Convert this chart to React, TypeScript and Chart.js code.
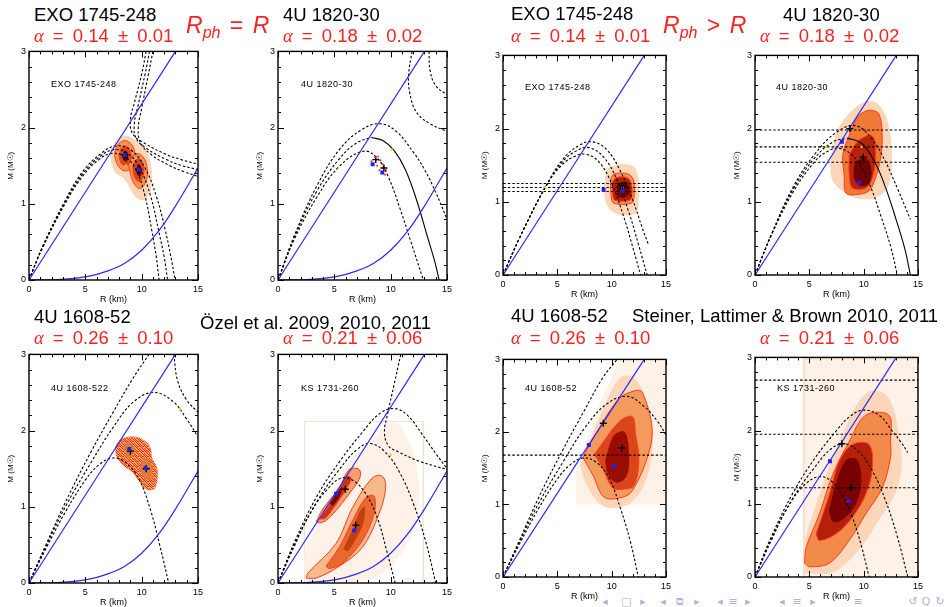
import React, { useEffect, useRef } from 'react';
import { Chart, registerables } from 'chart.js';
Chart.register(...registerables);

type Pt = [number, number];

// ---------------- shared curves ----------------
const CAUSALITY: Pt[] = [[0, 0], [13, 3]];
const LOWER_BLUE: Pt[] = [[0, 0], [2.5, 0.005], [5, 0.04], [7, 0.12], [8.5, 0.22], [10, 0.39], [11.5, 0.64], [13, 0.97], [15, 1.47]];

// ---------------- panel 1: EXO 1745-248 (Özel) ----------------
const EXO_O_TD1: Pt[] = [[0, 0], [1.2, 0.42], [3.2, 1.0], [4.8, 1.37], [6.2, 1.58], [7.3, 1.66], [8.5, 1.62], [9.5, 1.45], [10.3, 1.1], [10.9, 0.65], [11.3, 0.3], [11.55, 0]];
const EXO_O_TD2: Pt[] = [[0, 0], [1.2, 0.43], [3.2, 1.02], [4.8, 1.4], [6.3, 1.62], [7.5, 1.71], [8.8, 1.66], [9.9, 1.45], [10.8, 1.1], [11.5, 0.65], [12.0, 0.3], [12.3, 0]];
const EXO_O_TD3: Pt[] = [[0, 0], [1.2, 0.44], [3.2, 1.04], [4.8, 1.43], [6.4, 1.66], [7.7, 1.76], [9.1, 1.7], [10.3, 1.47], [11.3, 1.1], [12.1, 0.65], [12.6, 0.3], [12.97, 0]];
const EXO_O_AR1: Pt[] = [[10.4, 3], [10.0, 2.7], [9.4, 2.35], [9.0, 2.1], [9.2, 1.92], [10.2, 1.8], [12, 1.66], [13.5, 1.58], [15, 1.52]];
const EXO_O_AR2: Pt[] = [[10.7, 3], [10.3, 2.7], [9.7, 2.3], [9.35, 2.05], [9.5, 1.86], [10.5, 1.72], [12.2, 1.58], [13.6, 1.5], [15, 1.45]];
const EXO_O_AR3: Pt[] = [[11.0, 3], [10.6, 2.7], [10.0, 2.25], [9.7, 2.0], [9.9, 1.8], [10.9, 1.64], [12.5, 1.5], [13.8, 1.42], [15, 1.36]];
const EXO_O_HALO: Pt[] = [[7.2, 1.62], [7.6, 1.8], [8.4, 1.9], [9.4, 1.84], [10.4, 1.7], [10.9, 1.45], [10.8, 1.18], [10.2, 1.05], [9.4, 1.1], [8.5, 1.32], [7.6, 1.42]];
const EXO_O_A_OUT: Pt[] = [[7.6, 1.62], [7.8, 1.76], [8.5, 1.83], [9.2, 1.76], [9.4, 1.6], [9.1, 1.47], [8.5, 1.43], [7.9, 1.5]];
const EXO_O_A_IN: Pt[] = [[8.0, 1.63], [8.15, 1.72], [8.5, 1.76], [8.95, 1.71], [9.05, 1.6], [8.85, 1.52], [8.5, 1.5], [8.15, 1.54]];
const EXO_O_A_CORE: Pt[] = [[8.25, 1.63], [8.5, 1.7], [8.8, 1.65], [8.7, 1.56], [8.4, 1.57]];
const EXO_O_B_OUT: Pt[] = [[8.85, 1.5], [9.1, 1.6], [9.6, 1.66], [10.2, 1.6], [10.5, 1.45], [10.35, 1.28], [9.8, 1.2], [9.2, 1.3]];
const EXO_O_B_IN: Pt[] = [[9.2, 1.48], [9.4, 1.56], [9.75, 1.59], [10.1, 1.53], [10.2, 1.42], [10.0, 1.32], [9.7, 1.29], [9.35, 1.36]];
const EXO_O_B_CORE: Pt[] = [[9.5, 1.46], [9.75, 1.52], [10.0, 1.46], [9.9, 1.37], [9.6, 1.38]];
const EXO_O_SQ: Pt[] = [[8.5, 1.64], [9.75, 1.45]];
const EXO_O_PLUS: Pt[] = [[8.5, 1.64], [9.75, 1.45]];
const EXO_O_YEL: Pt[] = [[8.6, 1.5]];

// ---------------- panel 2: 4U 1820-30 (Özel) ----------------
const U1820_O_TD_IN: Pt[] = [[0, 0], [1.5, 0.55], [3.5, 1.1], [5.5, 1.5], [7.6, 1.69], [8.8, 1.6], [9.8, 1.35], [10.8, 0.95], [11.8, 0.5], [12.9, 0]];
const U1820_O_TD_MIDL: Pt[] = [[0, 0], [1.5, 0.58], [3.5, 1.18], [5.5, 1.6], [7, 1.8], [8.3, 1.87]];
const U1820_O_TD_MIDR: Pt[] = [[8.3, 1.87], [9.3, 1.83], [10.3, 1.7], [11.3, 1.45], [12.3, 1.05], [13.2, 0.6], [13.9, 0.25], [14.3, 0]];
const U1820_O_TD_OUT: Pt[] = [[0, 0], [1.5, 0.6], [3.5, 1.25], [5.5, 1.72], [7.5, 1.98], [9.1, 2.05], [10.5, 1.95], [12, 1.68], [13, 1.45], [14, 1.15], [15, 0.8]];
const U1820_O_AR1: Pt[] = [[11.9, 3], [11.6, 2.7], [11.7, 2.45], [12.3, 2.2], [13.5, 2.05], [15, 1.95]];
const U1820_O_AR2: Pt[] = [[13.4, 3], [13.5, 2.75], [14.0, 2.55], [15, 2.43]];
const U1820_O_RED: Pt[] = [[8.3, 1.56], [8.6, 1.61], [8.9, 1.62], [9.1, 1.57], [9.3, 1.52], [9.6, 1.45], [9.5, 1.38], [9.0, 1.44], [8.8, 1.5]];
const U1820_O_SQ: Pt[] = [[8.4, 1.52], [9.26, 1.41]];
const U1820_O_PLUS: Pt[] = [[8.68, 1.58], [9.4, 1.47]];
const U1820_O_YEL: Pt[] = [[10.1, 1.71]];

// ---------------- panel 3: EXO 1745-248 (Steiner) ----------------
const EXO_S_TD1: Pt[] = [[0, 0], [1.5, 0.5], [3.9, 1.2], [5.5, 1.58], [7, 1.77], [8.2, 1.82], [9.5, 1.72], [10.8, 1.42], [12, 1.0], [12.8, 0.65], [13.4, 0.41]];
const EXO_S_TD2: Pt[] = [[0, 0], [1.5, 0.5], [3.9, 1.2], [5.5, 1.55], [6.8, 1.7], [7.9, 1.74], [9.2, 1.62], [10.5, 1.3], [11.6, 0.85], [12.5, 0.4], [13.27, 0]];
const EXO_S_TD3: Pt[] = [[0, 0], [1.5, 0.5], [3.9, 1.2], [5.4, 1.5], [6.6, 1.62], [7.6, 1.65], [8.8, 1.55], [10, 1.25], [11.1, 0.8], [12.0, 0.35], [12.66, 0]];
const EXO_S_HLINES: number[] = [1.25, 1.195, 1.14];
const EXO_S_HALO: Pt[] = [[9.5, 1.45], [11, 1.52], [12.2, 1.45], [12.5, 1.1], [12.2, 0.85], [10.8, 0.82], [9.7, 0.92], [9.3, 1.15]];
const EXO_S_OUT: Pt[] = [[9.9, 1.3], [10.2, 1.38], [11.5, 1.38], [12.0, 1.3], [12.05, 1.05], [11.8, 0.98], [10.2, 0.98], [9.95, 1.08]];
const EXO_S_IN: Pt[] = [[10.1, 1.28], [10.4, 1.33], [11.4, 1.33], [11.8, 1.25], [11.85, 1.07], [11.6, 1.02], [10.3, 1.02], [10.1, 1.1]];
const EXO_S_CORE: Pt[] = [[10.5, 1.25], [11.4, 1.27], [11.6, 1.1], [10.6, 1.07]];
const EXO_S_SQ: Pt[] = [[9.26, 1.16], [11.0, 1.15]];
const EXO_S_PLUS: Pt[] = [[11.0, 1.22]];
const EXO_S_YEL: Pt[] = [[11.0, 1.2], [3.86, 1.2]];

// ---------------- panel 4: 4U 1820-30 (Steiner) ----------------
const U1820_S_TD_OUT: Pt[] = [[0, 0], [1.5, 0.55], [3.5, 1.2], [5.5, 1.65], [7.5, 1.95], [9.28, 2.04], [10.8, 1.85], [12, 1.55], [13.2, 1.15], [14.3, 0.76]];
const U1820_S_TD_MIDL: Pt[] = [[0, 0], [1.5, 0.55], [3.5, 1.17], [5.5, 1.6], [7.2, 1.82], [8.5, 1.87]];
const U1820_S_TD_MIDR: Pt[] = [[8.5, 1.87], [9.8, 1.8], [11, 1.55], [12, 1.2], [13, 0.75], [13.8, 0.35], [14.3, 0]];
const U1820_S_TD_IN: Pt[] = [[0, 0], [1.5, 0.54], [3.5, 1.13], [5.5, 1.55], [6.8, 1.7], [7.8, 1.73], [9.2, 1.6], [10.5, 1.25], [11.6, 0.8], [12.5, 0.38], [13.1, 0]];
const U1820_S_HLINES: number[] = [1.98, 1.75, 1.54];
const U1820_S_HALO: Pt[] = [[6.9, 1.5], [7.5, 1.95], [8.6, 2.2], [10.0, 2.36], [11.2, 2.35], [12.2, 2.1], [12.6, 1.6], [12.2, 1.2], [11.0, 1.05], [9.4, 1.05], [8.0, 1.15], [7.1, 1.3]];
const U1820_S_OUT: Pt[] = [[8.2, 1.73], [8.67, 1.91], [9.43, 2.16], [10.5, 2.25], [11.4, 2.2], [11.7, 1.91], [11.56, 1.6], [11.1, 1.33], [10.5, 1.15], [9.43, 1.1], [8.37, 1.12], [8.2, 1.37], [8.06, 1.6]];
const U1820_S_IN: Pt[] = [[8.67, 1.64], [9.43, 1.82], [10.5, 1.91], [10.95, 1.87], [11.1, 1.6], [10.8, 1.33], [10.2, 1.19], [8.97, 1.19], [8.67, 1.37]];
const U1820_S_CORE: Pt[] = [[9.2, 1.55], [10.2, 1.6], [10.7, 1.45], [10.5, 1.25], [9.6, 1.22], [9.1, 1.35]];
const U1820_S_SQ: Pt[] = [[8.0, 1.82], [9.58, 1.26]];
const U1820_S_PLUS: Pt[] = [[8.73, 2.0], [9.95, 1.61]];
const U1820_S_YEL: Pt[] = [[6.54, 1.75], [9.8, 1.75]];

// ---------------- panel 5: 4U 1608-52 (Özel) ----------------
const U1608_O_STEEP: Pt[] = [[0, 0], [1.5, 0.5], [3.3, 1.08], [5.5, 1.72], [7.5, 2.25], [9.2, 2.68], [10.65, 3.0]];
const U1608_O_TD_OUT: Pt[] = [[0, 0], [1.5, 0.48], [3.3, 1.02], [5.5, 1.58], [7.5, 2.05], [9.3, 2.38], [11.1, 2.5], [12.8, 2.38], [14, 2.15], [15, 1.92]];
const U1608_O_TD_IN: Pt[] = [[0, 0], [1.5, 0.45], [3.3, 0.95], [5, 1.35], [6.2, 1.55], [7.4, 1.64], [8.6, 1.58], [9.8, 1.35], [10.8, 0.95], [11.6, 0.5], [12.4, 0]];
const U1608_O_AR: Pt[] = [[12.85, 3], [13.2, 2.65], [14, 2.4], [15, 2.24]];
const U1608_O_CLOUD: Pt[] = [[7.7, 1.81], [8.3, 1.9], [9.47, 1.92], [10.35, 1.86], [10.8, 1.77], [10.94, 1.64], [11.38, 1.51], [11.38, 1.34], [11.09, 1.23], [10.35, 1.23], [9.76, 1.34], [9.03, 1.47], [8.3, 1.55], [7.7, 1.68]];
const U1608_O_A: Pt[] = [[8.4, 1.76], [8.7, 1.84], [9.2, 1.82], [9.4, 1.72], [9.1, 1.64], [8.6, 1.67]];
const U1608_O_B: Pt[] = [[9.9, 1.55], [10.3, 1.65], [10.8, 1.58], [10.9, 1.42], [10.5, 1.36], [10.0, 1.43]];
const U1608_O_SQ: Pt[] = [[8.9, 1.76], [10.35, 1.51]];
const U1608_O_PLUS: Pt[] = [[9.0, 1.73], [10.4, 1.5]];
const U1608_O_YEL: Pt[] = [[13.4, 2.28]];

// ---------------- panel 6: KS 1731-260 (Özel) ----------------
const KS_O_TD_OUT: Pt[] = [[0, 0], [1.5, 0.55], [3.5, 1.15], [5.5, 1.6], [7.5, 1.98], [9, 2.22], [10.3, 2.29], [11.5, 2.2], [12.8, 1.95], [14, 1.7], [15, 1.5]];
const KS_O_TD_MID: Pt[] = [[0, 0], [1.5, 0.52], [3.5, 1.08], [5.5, 1.5], [7, 1.75], [8.2, 1.83], [9.5, 1.72], [10.8, 1.45], [12, 1.05], [13.1, 0.55], [14.0, 0]];
const KS_O_TD_IN: Pt[] = [[0, 0], [1.5, 0.5], [3, 0.95], [4.5, 1.25], [5.7, 1.38], [6.9, 1.32], [8, 1.12], [8.9, 0.82], [9.6, 0.45], [10.4, 0]];
const KS_O_AR: Pt[] = [[10.9, 3], [10.3, 2.6], [9.7, 2.2], [9.45, 1.98], [9.8, 1.8], [10.7, 1.72], [12.5, 1.6], [15, 1.49]];
const KS_O_BOX: Pt[] = [[2.35, 0], [2.35, 2.12], [12.9, 2.12], [12.9, 0]];
const KS_O_HALO: Pt[] = [[2.4, 0.0], [2.4, 0.4], [3.5, 0.75], [4.3, 1.05], [5.5, 1.4], [6.6, 1.65], [8.2, 1.85], [9.5, 2.05], [10.5, 2.1], [11.5, 1.9], [12.3, 1.55], [12.5, 1.1], [11.8, 0.6], [10.5, 0.3], [9, 0.1], [7, 0.02], [4.5, 0.0]];
const KS_O_U_OUT: Pt[] = [[3.38, 0.8], [3.97, 0.97], [5.44, 1.25], [6.32, 1.49], [7.2, 1.49], [7.26, 1.38], [6.32, 1.17], [5.15, 0.95], [4.26, 0.82], [3.68, 0.79]];
const KS_O_U_IN: Pt[] = [[3.7, 0.84], [4.6, 1.03], [5.5, 1.25], [6.1, 1.4], [6.5, 1.37], [6.0, 1.22], [5.0, 1.0], [4.2, 0.85]];
const KS_O_U_CORE: Pt[] = [[4.6, 1.04], [5.3, 1.2], [5.7, 1.26], [5.5, 1.15], [4.9, 1.02]];
const KS_O_L_OUT: Pt[] = [[2.5, 0.065], [2.65, 0.13], [5.15, 0.52], [6.62, 0.99], [8.38, 1.38], [9.26, 1.4], [9.56, 1.25], [8.97, 0.91], [7.5, 0.47], [5.44, 0.22], [3.38, 0.065]];
const KS_O_L_IN: Pt[] = [[4.26, 0.22], [5.44, 0.47], [6.62, 0.82], [7.8, 1.12], [8.53, 1.14], [8.53, 0.91], [7.5, 0.56], [5.74, 0.26], [4.56, 0.19]];
const KS_O_L_CORE: Pt[] = [[5.8, 0.45], [6.6, 0.7], [7.3, 0.95], [7.7, 1.0], [7.6, 0.8], [7.0, 0.6], [6.2, 0.42]];
const KS_O_SQ: Pt[] = [[5.15, 1.17], [6.76, 0.69]];
const KS_O_PLUS: Pt[] = [[5.97, 1.23], [6.9, 0.76]];
const KS_O_YEL: Pt[] = [[10.0, 1.68]];

// ---------------- panel 7: 4U 1608-52 (Steiner) ----------------
const U1608_S_STEEP: Pt[] = [[0, 0], [1.5, 0.5], [3.3, 1.1], [5.5, 1.75], [7.5, 2.3], [9.2, 2.75], [10.5, 3.0]];
const U1608_S_TD_OUT: Pt[] = [[0, 0], [1.5, 0.48], [3.3, 1.02], [5.5, 1.58], [7.5, 2.05], [9.5, 2.38], [11.45, 2.49], [13, 2.35], [14.2, 2.15], [15, 1.96]];
const U1608_S_TD_IN: Pt[] = [[0, 0], [1.5, 0.45], [3.3, 0.95], [5, 1.35], [6.2, 1.55], [7.35, 1.64], [8.6, 1.58], [9.8, 1.35], [10.8, 0.95], [11.7, 0.5], [12.45, 0]];
const U1608_S_HLINES: number[] = [1.68];
const U1608_S_FAINT: Pt[] = [[6.74, 1.0], [6.74, 1.45], [8.8, 2.35], [10.7, 3.0], [15, 3.0], [15, 1.0]];
const U1608_S_HALO: Pt[] = [[7.1, 1.55], [8.3, 2.0], [9.6, 2.45], [10.8, 2.75], [12, 2.75], [13.2, 2.45], [13.8, 1.9], [13.2, 1.35], [12, 1.05], [10.5, 0.95], [9, 1.0], [7.6, 1.3]];
const U1608_S_OUT: Pt[] = [[7.35, 1.65], [8.41, 1.94], [10.69, 2.46], [12.2, 2.57], [12.8, 2.55], [13.72, 2.05], [13.27, 1.64], [11.9, 1.19], [10.99, 1.1], [9.32, 1.1], [8.26, 1.41]];
const U1608_S_IN: Pt[] = [[8.41, 1.69], [10.69, 2.14], [11.9, 2.21], [12.2, 1.96], [12.5, 1.64], [12.05, 1.26], [10.99, 1.21], [10.08, 1.23], [9.17, 1.5]];
const U1608_S_CORE: Pt[] = [[9.4, 1.6], [10.2, 1.95], [11.2, 2.0], [11.6, 1.7], [11.4, 1.4], [10.5, 1.3], [9.7, 1.4]];
const U1608_S_SQ: Pt[] = [[7.9, 1.82], [10.23, 1.53]];
const U1608_S_PLUS: Pt[] = [[9.23, 2.12], [10.93, 1.78]];

// ---------------- panel 8: KS 1731-260 (Steiner) ----------------
const KS_S_TD_OUT: Pt[] = [[0, 0], [1.5, 0.55], [3.5, 1.15], [5.5, 1.62], [7.5, 2.0], [8.8, 2.2], [10.04, 2.28], [11.5, 2.2], [12.6, 2.0], [13.4, 1.85], [14.06, 1.7]];
const KS_S_TD_MID: Pt[] = [[0, 0], [1.5, 0.52], [3.5, 1.08], [5.5, 1.5], [7, 1.75], [8.2, 1.82], [9.5, 1.72], [10.8, 1.45], [12, 1.05], [13.1, 0.55], [14.06, 0]];
const KS_S_TD_IN: Pt[] = [[0, 0], [1.5, 0.5], [3, 0.95], [4.5, 1.25], [5.93, 1.37], [7.1, 1.3], [8.1, 1.1], [9, 0.8], [9.8, 0.42], [10.5, 0]];
const KS_S_HLINES: number[] = [2.69, 1.95, 1.22];
const KS_S_BOX: Pt[] = [[4.5, 0], [4.5, 2.98], [15, 2.98], [15, 0]];
const KS_S_HALO: Pt[] = [[4.6, 0.05], [4.6, 0.5], [5.3, 0.85], [6.2, 1.25], [7.2, 1.65], [8.5, 2.1], [9.8, 2.45], [11, 2.55], [12.3, 2.45], [13.2, 2.0], [13.5, 1.5], [12.8, 1.1], [11.5, 0.8], [10, 0.45], [8.5, 0.2], [7, 0.05]];
const KS_S_OUT: Pt[] = [[4.56, 0.19], [4.72, 0.41], [5.93, 0.86], [7.15, 1.4], [8.67, 1.85], [10.19, 2.21], [12.32, 2.21], [12.47, 1.85], [12.47, 1.63], [11.71, 1.22], [10.19, 0.86], [8.67, 0.5], [6.85, 0.19], [5.02, 0.14]];
const KS_S_IN: Pt[] = [[5.63, 0.59], [6.85, 1.13], [7.76, 1.58], [8.98, 1.81], [10.5, 1.81], [10.8, 1.49], [10.19, 1.13], [8.98, 0.82], [7.45, 0.59], [5.93, 0.5]];
const KS_S_CORE: Pt[] = [[6.8, 0.9], [7.5, 1.3], [8.4, 1.6], [9.4, 1.6], [9.8, 1.3], [9.3, 1.0], [8.2, 0.8], [7.2, 0.75]];
const KS_S_SQ: Pt[] = [[6.9, 1.58], [8.6, 1.04]];
const KS_S_PLUS: Pt[] = [[8.0, 1.82], [8.82, 1.22]];

// ---------------- styling helpers ----------------
const FONT = '"Liberation Sans", Arial, sans-serif';
const BLUE = '#2a2aff';
const FAINT = '#fef2e8';
const HALO = '#fcd6b8';
const OUTER = '#f59450';
const INNER = '#d8461a';
const CORE = '#9a0c00';
const CONTOUR = '#ff3a1c';

// speckled fill (red dots on orange) used for the 4U 1608-522 cloud
let speckleCache: CanvasPattern | null = null;
function speckle(): CanvasPattern | string {
  if (speckleCache) return speckleCache;
  const c = document.createElement('canvas');
  c.width = 5; c.height = 5;
  const g = c.getContext('2d');
  if (!g) return '#f4582a';
  g.fillStyle = '#f8a86a';
  g.fillRect(0, 0, 5, 5);
  g.fillStyle = '#ff2a0c';
  const dots: Pt[] = [[0, 0], [2, 0], [3, 1], [1, 2], [4, 2], [0, 3], [2, 3], [3, 4], [1, 4], [4, 0]];
  dots.forEach(([x, y]) => g.fillRect(x, y, 1, 1));
  const p = g.createPattern(c, 'repeat');
  speckleCache = p;
  return p || '#f4582a';
}

const pts = (d: Pt[]) => d.map(([x, y]) => ({ x, y }));
const closed = (d: Pt[]) => [...d, d[0]];

const dashed = (d: Pt[]) => ({ data: pts(d), borderColor: '#000', borderWidth: 1.1, borderDash: [2.5, 2], pointRadius: 0, tension: 0.4, fill: false, order: 10 });
const solidBlack = (d: Pt[]) => ({ data: pts(d), borderColor: '#000', borderWidth: 1.1, pointRadius: 0, tension: 0.4, fill: false, order: 10 });
const blue = (d: Pt[]) => ({ data: pts(d), borderColor: BLUE, borderWidth: 1.2, pointRadius: 0, tension: 0.4, fill: false, order: 9 });
const hline = (m: number) => dashed([[0, m], [15, m]]);
const area = (d: Pt[], color: any, order: number, stroke?: string, tension = 0.35) => ({
  data: pts(closed(d)), backgroundColor: color, borderColor: stroke || 'rgba(0,0,0,0)', borderWidth: stroke ? 1 : 0,
  fill: 'shape', pointRadius: 0, tension, order,
});
const outline = (d: Pt[], color: string, order: number) => ({
  data: pts(d), borderColor: color, borderWidth: 1, pointRadius: 0, tension: 0, fill: false, order,
});
const marks = (d: Pt[], style: string, color: string, r: number) => ({
  data: pts(d), showLine: false, pointStyle: style, pointRadius: r, pointHoverRadius: r,
  pointBackgroundColor: color, pointBorderColor: color, pointBorderWidth: style === 'cross' ? 1.4 : 0, order: 0,
});

// ---------------- panel specs ----------------
interface Spec { L: number; T: number; W: number; H: number; datasets: () => any[] }

const PANELS: Spec[] = [
  {
    L: 29, T: 49, W: 170, H: 231, datasets: () => [
      area(EXO_O_HALO, HALO, 60),
      area(EXO_O_A_OUT, OUTER, 55, CONTOUR), area(EXO_O_A_IN, INNER, 54, CONTOUR), area(EXO_O_A_CORE, '#5e0000', 53),
      area(EXO_O_B_OUT, OUTER, 52, CONTOUR), area(EXO_O_B_IN, INNER, 51, CONTOUR), area(EXO_O_B_CORE, '#5e0000', 50),
      blue(CAUSALITY), blue(LOWER_BLUE),
      dashed(EXO_O_TD1), dashed(EXO_O_TD2), dashed(EXO_O_TD3),
      dashed(EXO_O_AR1), dashed(EXO_O_AR2), dashed(EXO_O_AR3),
      marks(EXO_O_SQ, 'rect', '#2020ff', 2.8), marks(EXO_O_PLUS, 'cross', '#000', 3.5), marks(EXO_O_YEL, 'rect', '#ffcc00', 1.6),
    ],
  },
  {
    L: 278, T: 49, W: 170, H: 231, datasets: () => [
      blue(CAUSALITY), blue(LOWER_BLUE),
      dashed(U1820_O_TD_IN), dashed(U1820_O_TD_MIDL), solidBlack(U1820_O_TD_MIDR), dashed(U1820_O_TD_OUT),
      dashed(U1820_O_AR1), dashed(U1820_O_AR2),
      marks(U1820_O_RED, 'circle', '#ff3020', 1),
      marks(U1820_O_SQ, 'rect', '#2020ff', 2.8), marks(U1820_O_PLUS, 'cross', '#000', 3.5), marks(U1820_O_YEL, 'rect', '#ffcc00', 1.6),
    ],
  },
  {
    L: 503, T: 53, W: 164, H: 222, datasets: () => [
      area(EXO_S_HALO, HALO, 60),
      area(EXO_S_OUT, OUTER, 55, CONTOUR), area(EXO_S_IN, '#b81e05', 54, CONTOUR), area(EXO_S_CORE, '#700000', 53),
      blue(CAUSALITY),
      dashed(EXO_S_TD1), dashed(EXO_S_TD2), dashed(EXO_S_TD3),
      ...EXO_S_HLINES.map(hline),
      marks(EXO_S_SQ, 'rect', '#2020ff', 2.8), marks(EXO_S_PLUS, 'cross', '#000', 3.5), marks(EXO_S_YEL, 'rect', '#ffcc00', 1.6),
    ],
  },
  {
    L: 755, T: 53, W: 164, H: 222, datasets: () => [
      area(U1820_S_HALO, HALO, 60),
      area(U1820_S_OUT, '#f07a35', 55, CONTOUR), area(U1820_S_IN, '#b82308', 54, CONTOUR), area(U1820_S_CORE, '#720000', 53),
      blue(CAUSALITY),
      dashed(U1820_S_TD_OUT), dashed(U1820_S_TD_MIDL), solidBlack(U1820_S_TD_MIDR), dashed(U1820_S_TD_IN),
      ...U1820_S_HLINES.map(hline),
      marks(U1820_S_SQ, 'rect', '#2020ff', 2.8), marks(U1820_S_PLUS, 'cross', '#000', 3.5), marks(U1820_S_YEL, 'rect', '#ffcc00', 1.6),
    ],
  },
  {
    L: 29, T: 352, W: 170, H: 231, datasets: () => [
      area(U1608_O_CLOUD, speckle(), 55), area(U1608_O_A, '#dc7a3a', 54), area(U1608_O_B, '#dc7a3a', 53),
      blue(CAUSALITY), blue(LOWER_BLUE),
      dashed(U1608_O_STEEP), dashed(U1608_O_TD_OUT), dashed(U1608_O_TD_IN), dashed(U1608_O_AR),
      marks(U1608_O_SQ, 'rect', '#2020ff', 2.8), marks(U1608_O_PLUS, 'cross', '#000', 3.5), marks(U1608_O_YEL, 'rect', '#ffcc00', 1.6),
    ],
  },
  {
    L: 278, T: 352, W: 170, H: 231, datasets: () => [
      outline(KS_O_BOX, '#fbe0cc', 62),
      area(KS_O_HALO, FAINT, 61),
      area(KS_O_L_OUT, '#f8b98c', 58, CONTOUR), area(KS_O_L_IN, '#e8682e', 57, CONTOUR), area(KS_O_L_CORE, '#c2400f', 56),
      area(KS_O_U_OUT, '#f3a070', 55, CONTOUR), area(KS_O_U_IN, '#c83410', 54, CONTOUR), area(KS_O_U_CORE, '#7a0500', 53),
      blue(CAUSALITY), blue(LOWER_BLUE),
      dashed(KS_O_TD_OUT), dashed(KS_O_TD_MID), dashed(KS_O_TD_IN), dashed(KS_O_AR),
      marks(KS_O_SQ, 'rect', '#2020ff', 2.8), marks(KS_O_PLUS, 'cross', '#000', 3.5), marks(KS_O_YEL, 'rect', '#ffcc00', 1.6),
    ],
  },
  {
    L: 503, T: 357, W: 164, H: 220, datasets: () => [
      area(U1608_S_FAINT, FAINT, 62, undefined, 0),
      area(U1608_S_HALO, HALO, 60),
      area(U1608_S_OUT, '#f49a5c', 55, CONTOUR), area(U1608_S_IN, INNER, 54, CONTOUR), area(U1608_S_CORE, CORE, 53),
      blue(CAUSALITY),
      dashed(U1608_S_STEEP), dashed(U1608_S_TD_OUT), dashed(U1608_S_TD_IN),
      ...U1608_S_HLINES.map(hline),
      marks(U1608_S_SQ, 'rect', '#2020ff', 2.8), marks(U1608_S_PLUS, 'cross', '#000', 3.5),
    ],
  },
  {
    L: 755, T: 355, W: 164, H: 222, datasets: () => [
      area(KS_S_BOX, FAINT, 63, '#f6cba4', 0),
      area(KS_S_HALO, HALO, 60),
      area(KS_S_OUT, '#f28a4a', 55, CONTOUR), area(KS_S_IN, '#b5200a', 54, CONTOUR), area(KS_S_CORE, '#7a0000', 53),
      blue(CAUSALITY),
      dashed(KS_S_TD_OUT), dashed(KS_S_TD_MID), dashed(KS_S_TD_IN),
      ...KS_S_HLINES.map(hline),
      marks(KS_S_SQ, 'rect', '#2020ff', 2.8), marks(KS_S_PLUS, 'cross', '#000', 3.5),
    ],
  },
];

// IDL-style box with inward ticks on all four sides
const boxPlugin = {
  id: 'idlBox',
  afterDatasetsDraw(chart: any) {
    const { ctx, chartArea: a, scales } = chart;
    const x = scales.x, y = scales.y;
    ctx.save();
    ctx.strokeStyle = '#000';
    ctx.lineWidth = 1.4;
    ctx.strokeRect(a.left, a.top, a.right - a.left, a.bottom - a.top);
    ctx.lineWidth = 1;
    ctx.beginPath();
    for (let v = 0; v <= 15; v += 1) {
      const px = Math.round(x.getPixelForValue(v)) + 0.5;
      const len = v % 5 === 0 ? 6 : 3;
      ctx.moveTo(px, a.bottom); ctx.lineTo(px, a.bottom - len);
      ctx.moveTo(px, a.top); ctx.lineTo(px, a.top + len);
    }
    for (let k = 0; k <= 15; k += 1) {
      const py = Math.round(y.getPixelForValue(k * 0.2)) + 0.5;
      const len = k % 5 === 0 ? 6 : 3;
      ctx.moveTo(a.left, py); ctx.lineTo(a.left + len, py);
      ctx.moveTo(a.right, py); ctx.lineTo(a.right - len, py);
    }
    ctx.stroke();
    ctx.restore();
  },
};

const YPAD = 26, XPAD = 28, TOPPAD = 6, RIGHTPAD = 8;

function PanelChart({ spec }: { spec: Spec }) {
  const ref = useRef<HTMLCanvasElement>(null);
  const cw = spec.W + YPAD + RIGHTPAD;
  const ch = spec.H + XPAD + TOPPAD;
  useEffect(() => {
    const tickFont = { size: 9, family: FONT };
    const chart = new Chart(ref.current as HTMLCanvasElement, {
      type: 'line',
      data: { datasets: spec.datasets() as any },
      options: {
        animation: false,
        responsive: false,
        devicePixelRatio: 1,
        layout: { padding: { left: 0, top: TOPPAD, right: RIGHTPAD, bottom: 0 } },
        plugins: { legend: { display: false }, tooltip: { enabled: false } },
        events: [],
        scales: {
          x: {
            type: 'linear', min: 0, max: 15,
            afterFit: (s: any) => { s.height = XPAD; },
            grid: { display: false, drawTicks: false },
            border: { display: false },
            ticks: { stepSize: 5, padding: 4, color: '#000', font: tickFont, maxRotation: 0, autoSkip: false },
            title: { display: true, text: 'R (km)', color: '#000', font: tickFont, padding: { top: 0, bottom: 3 } },
          },
          y: {
            type: 'linear', min: 0, max: 3,
            afterFit: (s: any) => { s.width = YPAD; },
            grid: { display: false, drawTicks: false },
            border: { display: false },
            ticks: { stepSize: 1, padding: 3, color: '#000', font: tickFont },
            title: { display: true, text: 'M (M\u2609)', color: '#000', font: { size: 8, family: FONT }, padding: { top: 3, bottom: 0 } },
          },
        },
      } as any,
      plugins: [boxPlugin],
    });
    return () => chart.destroy();
  }, []);
  return (
    <canvas ref={ref} width={cw} height={ch}
      style={{ position: 'absolute', left: spec.L - YPAD, top: spec.T - TOPPAD, width: cw, height: ch }} />
  );
}

// ---------------- text ----------------
const RED = '#ff1f1f';

function Txt({ x, y, size, color = '#000', children, style }: any) {
  return (
    <div style={{ position: 'absolute', left: x, top: y - size * 0.8465, fontSize: size, lineHeight: `${size}px`, color, whiteSpace: 'nowrap', fontFamily: FONT, ...style }}>
      {children}
    </div>
  );
}

function Alpha({ x, y, v, e }: { x: number; y: number; v: string; e: string }) {
  return (
    <Txt x={x} y={y} size={18.5} color={RED} style={{ wordSpacing: 4 }}>
      <span style={{ fontFamily: '"Liberation Serif", serif', fontStyle: 'italic' }}>α</span> = {v} ± {e}
    </Txt>
  );
}

function Rph({ x, y, op }: { x: number; y: number; op: string }) {
  return (
    <Txt x={x} y={y} size={23} color={RED} style={{ wordSpacing: 3 }}>
      <span style={{ fontStyle: 'italic' }}>R</span>
      <span style={{ fontStyle: 'italic', fontSize: 16, position: 'relative', top: 5 }}>ph</span> {op} <span style={{ fontStyle: 'italic' }}>R</span>
    </Txt>
  );
}

const NAV: [string, number][] = [
  ['◂', 605], ['□', 626], ['▸', 643], ['◂', 663], ['⧉', 680], ['▸', 697], ['◂', 720], ['≡', 733], ['▸', 748],
  ['◂', 782], ['≡', 797], ['▸', 813], ['≡', 858], ['↺', 913], ['Q', 926], ['↻', 940],
];

export default function App() {
  useEffect(() => { document.body.style.margin = '0'; }, []);
  const small = { fontSize: 9, letterSpacing: 0.5 };
  return (
    <div style={{ position: 'fixed', left: 0, top: 0, width: 948, height: 607, background: '#fff', overflow: 'hidden' }}>
      {PANELS.map((p, i) => <PanelChart key={i} spec={p} />)}

      <Txt x={34} y={22} size={18.5}>EXO 1745-248</Txt>
      <Alpha x={34} y={43} v="0.14" e="0.01" />
      <Rph x={186} y={33} op="=" />
      <Txt x={283} y={22} size={18.5}>4U 1820-30</Txt>
      <Alpha x={283} y={43} v="0.18" e="0.02" />

      <Txt x={511} y={21} size={18.5}>EXO 1745-248</Txt>
      <Alpha x={511} y={43} v="0.14" e="0.01" />
      <Rph x={663} y={33} op=">" />
      <Txt x={783} y={22} size={18.5}>4U 1820-30</Txt>
      <Alpha x={760} y={43} v="0.18" e="0.02" />

      <Txt x={34} y={324} size={18.5}>4U 1608-52</Txt>
      <Alpha x={34} y={345} v="0.26" e="0.10" />
      <Txt x={200} y={330} size={18.5}>Özel et al. 2009, 2010, 2011</Txt>
      <Alpha x={283} y={345} v="0.21" e="0.06" />

      <Txt x={511} y={323} size={18.5}>4U 1608-52</Txt>
      <Txt x={632} y={323} size={18.5}>Steiner, Lattimer &amp; Brown 2010, 2011</Txt>
      <Alpha x={511} y={345} v="0.26" e="0.10" />
      <Alpha x={760} y={345} v="0.21" e="0.06" />

      <Txt x={51} y={88} size={9} style={small}>EXO 1745-248</Txt>
      <Txt x={301} y={88} size={9} style={small}>4U 1820-30</Txt>
      <Txt x={525} y={91} size={9} style={small}>EXO 1745-248</Txt>
      <Txt x={776} y={91} size={9} style={small}>4U 1820-30</Txt>
      <Txt x={51} y={392} size={9} style={small}>4U 1608-522</Txt>
      <Txt x={301} y={392} size={9} style={small}>KS 1731-260</Txt>
      <Txt x={525} y={392} size={9} style={small}>4U 1608-52</Txt>
      <Txt x={777} y={392} size={9} style={small}>KS 1731-260</Txt>

      {NAV.map(([g, x], i) => (
        <div key={i} style={{ position: 'absolute', left: x - 5, top: 596, width: 10, textAlign: 'center', fontSize: 11, lineHeight: '12px', color: '#aab4d8', fontFamily: '"DejaVu Sans", sans-serif' }}>{g}</div>
      ))}
    </div>
  );
}
